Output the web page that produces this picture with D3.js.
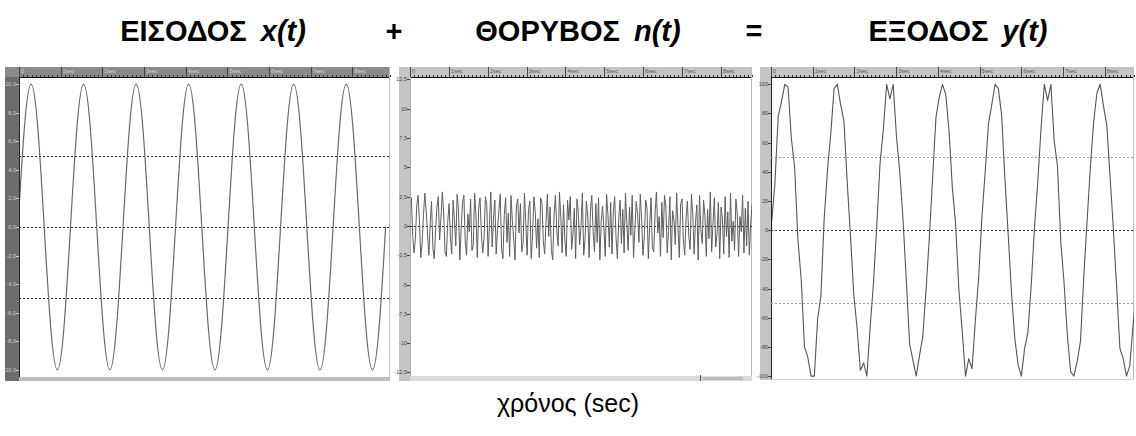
<!DOCTYPE html>
<html>
<head>
<meta charset="utf-8">
<script src="https://cdn.jsdelivr.net/npm/d3@7/dist/d3.min.js"></script>
<style>
  html, body { margin: 0; padding: 0; background: #fff; }
  svg { display: block; font-family: "Liberation Sans", Arial, sans-serif; }
</style>
</head>
<body>
<div id="chart"></div>
<script>
// ---- data ----

// input x(t): sampled 8 times per period (T = 1.26 s), first sample at t = -0.025 s
const inputStart = -0.025;
const inputStep = 0.1575;
const inputValues = [
  0, 7.07, 10, 7.07, 0, -7.07, -10, -7.07,
  0, 7.07, 10, 7.07, 0, -7.07, -10, -7.07,
  0, 7.07, 10, 7.07, 0, -7.07, -10, -7.07,
  0, 7.07, 10, 7.07, 0, -7.07, -10, -7.07,
  0, 7.07, 10, 7.07, 0, -7.07, -10, -7.07,
  0, 7.07, 10, 7.07, 0, -7.07, -10, -7.07,
  0, 7.07, 10, 7.07, 0, -7.07, -10, -7.07,
  0
];

// noise n(t): 255 samples from 0 to 8.8 s
const noiseStart = 0;
const noiseStep = 0.03465;
const noiseValues = [
  1.2, 2.4, -0.8, -2.3, -1.1, 1.7, 2.6, 0.4, -2.7, -1.5,
  0.9, 2.8, 1.3, -0.6, -2.5, 0.2, 2.1, -1.9, -2.8, -0.4,
  1.6, 2.5, -1.2, 0.7, 2.9, 1.1, -2.2, -2.6, 0.3, 1.9,
  -0.9, -2.4, 2.2, 0.5, -1.7, 2.7, 1.4, -2.9, -0.2, 2.0,
  2.6, -1.3, -2.5, 1.0, -0.5, 2.3, -2.1, -1.6, 2.8, 0.8,
  -2.7, 1.5, 2.4, -0.7, -2.3, -1.0, 2.5, 1.8, -2.6, 0.1,
  2.9, -1.8, 0.6, 2.2, -2.4, -0.3, 1.3, 2.7, -2.0, -2.8,
  0.9, 2.4, -1.4, 1.1, -2.6, 2.6, 0.4, -1.1, -2.9, 1.7,
  2.3, -0.6, 1.9, -2.2, -1.5, 2.8, 0.2, -2.5, 1.4, 2.1,
  -2.8, -0.8, 2.5, 1.2, -1.9, 0.6, -2.7, 2.4, 2.0, -1.3,
  -2.4, 0.3, 2.7, -0.9, 1.6, -2.1, -2.9, 1.0, 2.6, -0.4,
  -1.7, 2.9, 0.7, -2.3, 1.8, -1.2, -2.6, 2.2, 0.5, 2.5,
  -2.0, -0.7, 1.5, -2.8, 2.3, 1.1, -1.6, 0.0, 2.8, -2.5,
  -1.1, 2.1, 0.8, -2.7, 1.3, 2.6, -0.5, -2.2, 1.9, -1.4,
  2.4, -2.9, 0.4, 1.7, -0.2, -2.6, 2.7, 0.9, -1.8, 2.0,
  -2.4, 1.2, 2.5, -1.0, -2.8, 0.6, 2.2, -1.5, 1.4, -2.3,
  2.8, 0.3, -2.1, 1.6, -0.8, 2.6, -2.7, -0.3, 2.1, 1.0,
  -1.4, 2.7, 0.6, -2.5, -0.9, 2.2, 1.5, -2.8, 0.1, 2.4,
  -1.9, -2.2, 1.1, 2.9, -0.6, 0.8, -2.6, 2.0, -1.0, 2.6,
  1.7, -2.3, -0.4, 2.5, -2.9, 1.3, 0.5, -1.6, 2.8, -0.1,
  -2.7, 1.9, 2.3, -1.2, -2.5, 0.7, 2.1, -0.8, -2.0, 2.7,
  1.0, -2.4, 0.3, 1.8, -2.9, 2.6, -0.3, -1.5, 2.2, 0.9,
  -2.6, 1.4, -1.1, 2.9, -2.2, 0.2, 2.4, -1.8, -0.7, 2.0,
  -2.8, 1.6, 0.6, -2.4, 2.5, -0.9, 1.2, -2.7, 2.8, -1.3,
  0.4, -2.1, 2.3, 1.1, -2.6, 0.8, -0.5, 2.6, -2.3, 1.5,
  -1.7, 2.1, -2.5, 0.3, 1.8
];

// output y(t): 16 samples per period, first sample at t = 0.015 s, saturates at +-100
const outputStart = 0.015;
const outputStep = 0.07875;
const outputValues = [
  5, 32, 78, 88, 100, 98, 63, 43, -6, -34, -80, -87, -100, -100, -61, -45,
  8, 41, 66, 97, 100, 86, 75, 33, -4, -44, -67, -96, -91, -100, -66, -36,
  3, 46, 69, 100, 90, 100, 64, 40, 7, -35, -78, -89, -100, -86, -73, -41,
  -5, 36, 77, 91, 100, 93, 68, 29, 4, -41, -69, -100, -88, -95, -62, -33,
  9, 40, 73, 86, 100, 97, 79, 35, -3, -43, -74, -92, -100, -81, -70, -38,
  2, 33, 70, 100, 89, 100, 61, 44, -8, -36, -72, -97, -100, -90, -76, -32,
  6, 43, 74, 94, 100, 85, 72, 37, 1, -39, -81, -88, -100, -93, -65, -42,
  5
];

// axis ticks
const timeTicks = [0, 1, 2, 3, 4, 5, 6, 7, 8];
const inputTicks = [10, 8, 6, 4, 2, 0, -2, -4, -6, -8, -10];
const noiseTicks = [12.5, 10, 7.5, 5, 2.5, 0, -2.5, -5, -7.5, -10, -12.5];
const outputTicks = [100, 80, 60, 40, 20, 0, -20, -40, -60, -80, -100];
const inputGrid = [5, 0, -5];
const noiseGrid = [0];
const outputGrid = [50, 0, -50];

const titleParts = [
  { name: "ΕΙΣΟΔΟΣ", sym: "x(t)", cx: 213 },
  { name: "+", sym: "", cx: 394 },
  { name: "ΘΟΡΥΒΟΣ", sym: "n(t)", cx: 578 },
  { name: "=", sym: "", cx: 754 },
  { name: "ΕΞΟΔΟΣ", sym: "y(t)", cx: 958 }
];
const xLabel = "χρόνος (sec)";

// ---- drawing ----
const width = 1136, height = 436;

const gr = d3.formatLocale({ decimal: ",", thousands: ".", grouping: [3], currency: ["", ""], minus: "-" });

const svg = d3.select("#chart").append("svg")
  .attr("width", width)
  .attr("height", height);

const panels = [
  {
    id: "in", x0: 5, x1: 390, strip: 14, top: 67, plotTop: 77, plotBottom: 377, bottom: 381,
    tDomain: [0, 8.9], yDomain: [-10.5, 10.5],
    start: inputStart, step: inputStep, values: inputValues, curve: d3.curveNatural,
    ticks: inputTicks, fmt: gr.format(".1f"), grid: inputGrid,
    stripFill: "#6d6d6d", topFill: "#8a8a8a", labelFill: "#cfcfcf", bottomFill: "#bdbdbd",
    gridStroke: "#222", zeroStroke: "#222", lineStroke: "#6a6a6a", lineWidth: 1.2
  },
  {
    id: "noise", x0: 399, x1: 752, strip: 11, top: 67, plotTop: 77, plotBottom: 376, bottom: 381,
    tDomain: [0, 8.8], yDomain: [-12.8, 12.7],
    start: noiseStart, step: noiseStep, values: noiseValues, curve: d3.curveLinear,
    ticks: noiseTicks, fmt: gr.format(".1~f"), grid: noiseGrid,
    stripFill: "#c4c4c4", topFill: "#c4c4c4", labelFill: "#444", bottomFill: "#d9d9d9",
    gridStroke: "#333", zeroStroke: "#222", lineStroke: "#5e5e5e", lineWidth: 1
  },
  {
    id: "out", x0: 760, x1: 1134, strip: 11, top: 67, plotTop: 77, plotBottom: 379, bottom: 380,
    tDomain: [0, 8.7], yDomain: [-102, 105],
    start: outputStart, step: outputStep, values: outputValues, curve: d3.curveLinear,
    ticks: outputTicks, fmt: gr.format("d"), grid: outputGrid,
    stripFill: "#c4c4c4", topFill: "#c4c4c4", labelFill: "#444", bottomFill: "#d0d0d0",
    gridStroke: "#9a9a9a", zeroStroke: "#333", lineStroke: "#555", lineWidth: 1.1
  }
];

panels.forEach(p => {
  const plotLeft = p.x0 + p.strip;
  const x = d3.scaleLinear().domain(p.tDomain).range([plotLeft, p.x1]);
  const y = d3.scaleLinear().domain(p.yDomain).range([p.plotBottom, p.plotTop]);
  const g = svg.append("g").attr("class", "panel-" + p.id);

  // plot background
  g.append("rect")
    .attr("x", plotLeft).attr("y", p.plotTop)
    .attr("width", p.x1 - plotLeft).attr("height", p.plotBottom - p.plotTop)
    .attr("fill", "#fff");

  // bottom strip
  g.append("rect")
    .attr("x", p.x0).attr("y", p.plotBottom)
    .attr("width", p.x1 - p.x0).attr("height", p.bottom - p.plotBottom)
    .attr("fill", p.bottomFill);

  // left strip with value ticks
  g.append("rect")
    .attr("x", p.x0).attr("y", p.top)
    .attr("width", p.strip).attr("height", p.bottom - p.top)
    .attr("fill", p.stripFill);

  const yAxis = g.append("g");
  p.ticks.forEach(v => {
    yAxis.append("line")
      .attr("x1", plotLeft - 3).attr("x2", plotLeft)
      .attr("y1", Math.round(y(v)) + 0.5).attr("y2", Math.round(y(v)) + 0.5)
      .attr("stroke", p.labelFill).attr("stroke-width", 1);
    yAxis.append("text")
      .attr("x", plotLeft - 3).attr("y", y(v) + 2)
      .attr("text-anchor", "end")
      .attr("font-size", 5.5)
      .attr("fill", p.labelFill)
      .text(p.fmt(v));
  });

  // top strip with time ruler
  g.append("rect")
    .attr("x", p.x0).attr("y", p.top)
    .attr("width", p.x1 - p.x0).attr("height", p.plotTop - p.top)
    .attr("fill", p.topFill);

  const minor = d3.range(0, p.tDomain[1] + 0.001, 0.1);
  g.append("g").selectAll("line")
    .data(minor)
    .join("line")
      .attr("x1", d => Math.round(x(d)) + 0.5).attr("x2", d => Math.round(x(d)) + 0.5)
      .attr("y1", p.plotTop - 2).attr("y2", p.plotTop)
      .attr("stroke", "#333").attr("stroke-width", 1);

  const major = g.append("g");
  timeTicks.filter(t => t <= p.tDomain[1]).forEach(t => {
    major.append("line")
      .attr("x1", Math.round(x(t)) + 0.5).attr("x2", Math.round(x(t)) + 0.5)
      .attr("y1", p.top).attr("y2", p.plotTop)
      .attr("stroke", "#444").attr("stroke-width", 1);
    major.append("text")
      .attr("x", x(t) + 2).attr("y", p.top + 6)
      .attr("font-size", 5.5)
      .attr("fill", p.id === "in" ? "#d8d8d8" : "#555")
      .text(t === 0 ? "0" : t + "sec");
  });

  // frame lines
  g.append("line")
    .attr("x1", plotLeft).attr("x2", p.x1)
    .attr("y1", p.plotTop + 0.5).attr("y2", p.plotTop + 0.5)
    .attr("stroke", "#111");
  g.append("line")
    .attr("x1", plotLeft + 0.5).attr("x2", plotLeft + 0.5)
    .attr("y1", p.plotTop).attr("y2", p.plotBottom)
    .attr("stroke", p.id === "noise" ? "#aaa" : "#222");
  g.append("line")
    .attr("x1", p.x1 - 0.5).attr("x2", p.x1 - 0.5)
    .attr("y1", p.top).attr("y2", p.plotBottom)
    .attr("stroke", "#bbb");

  // grid lines
  g.append("g").selectAll("line")
    .data(p.grid)
    .join("line")
      .attr("x1", plotLeft).attr("x2", p.x1)
      .attr("y1", d => Math.round(y(d)) + 0.5).attr("y2", d => Math.round(y(d)) + 0.5)
      .attr("stroke", d => d === 0 ? p.zeroStroke : p.gridStroke)
      .attr("stroke-width", 1)
      .attr("stroke-dasharray", "2,2");

  // signal
  g.append("clipPath").attr("id", "clip-" + p.id)
    .append("rect")
      .attr("x", plotLeft + 1).attr("y", p.plotTop + 1)
      .attr("width", p.x1 - plotLeft - 1).attr("height", p.plotBottom - p.plotTop - 1);

  const pts = p.values.map((v, i) => [p.start + i * p.step, v]);
  const line = d3.line()
    .x(d => x(d[0]))
    .y(d => y(d[1]))
    .curve(p.curve);

  g.append("path")
    .datum(pts)
    .attr("clip-path", "url(#clip-" + p.id + ")")
    .attr("fill", "none")
    .attr("stroke", p.lineStroke)
    .attr("stroke-width", p.lineWidth)
    .attr("stroke-linejoin", "round")
    .attr("d", line);
});

// small scroll marker under the noise panel
svg.append("rect")
  .attr("x", 703).attr("y", 377).attr("width", 40).attr("height", 3)
  .attr("fill", "#bcbcbc");
svg.append("line")
  .attr("x1", 700.5).attr("x2", 700.5).attr("y1", 375).attr("y2", 381)
  .attr("stroke", "#555");

// titles
const titles = svg.append("g");
titleParts.forEach(tp => {
  const t = titles.append("text")
    .attr("x", tp.cx).attr("y", 41)
    .attr("text-anchor", "middle")
    .attr("font-size", 29)
    .attr("font-weight", "bold")
    .attr("fill", "#000");
  t.append("tspan").text(tp.name);
  if (tp.sym) {
    t.append("tspan").attr("dx", 14).attr("font-style", "italic").text(tp.sym);
  }
});

svg.append("text")
  .attr("x", 568).attr("y", 412)
  .attr("text-anchor", "middle")
  .attr("font-size", 25)
  .attr("fill", "#000")
  .text(xLabel);
</script>
</body>
</html>
